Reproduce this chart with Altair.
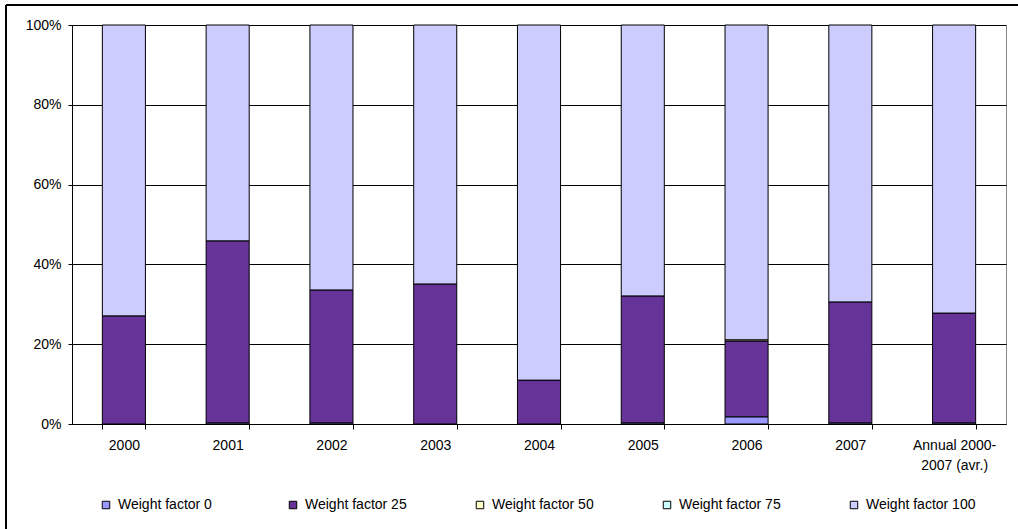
import altair as alt
import pandas as pd

# Categories (x axis) and series, bottom to top in each stack
periods = ["2000", "2001", "2002", "2003", "2004", "2005", "2006", "2007",
           "Annual 2000-|2007 (avr.)"]
series = ["Weight factor 0", "Weight factor 25", "Weight factor 50",
          "Weight factor 75", "Weight factor 100"]
colors = ["#9999FF", "#663399", "#FFFFCC", "#CCFFFF", "#CCCCFF"]

# Share of each weight factor per period (%)
wf0 = [0.0, 0.3, 0.3, 0.0, 0.0, 0.3, 1.8, 0.3, 0.3]
wf25 = [27.1, 45.6, 33.3, 35.1, 11.0, 31.8, 19.0, 30.3, 27.5]
wf50 = [0.0, 0.0, 0.0, 0.0, 0.0, 0.0, 0.3, 0.0, 0.0]
wf75 = [0.0, 0.0, 0.0, 0.0, 0.0, 0.0, 0.0, 0.0, 0.0]
wf100 = [72.9, 54.1, 66.4, 64.9, 89.0, 67.9, 78.9, 69.4, 72.2]

values = [wf0, wf25, wf50, wf75, wf100]
rows = []
for i, p in enumerate(periods):
    for j, s in enumerate(series):
        v = values[j][i]
        if v > 0:
            rows.append({"period": p, "series": s, "rank": j, "share": v})
df = pd.DataFrame(rows)

FONT = "Liberation Sans"
FSIZE = 14

bars = alt.Chart(df).mark_bar(stroke="black", strokeWidth=1).encode(
    x=alt.X(
        "period:N",
        sort=periods,
        scale=alt.Scale(paddingInner=0.585, paddingOuter=0.2925),
        axis=alt.Axis(
            title=None,
            labelAngle=0,
            labelExpr="split(datum.label, '|')",
            labelLineHeight=20,
            labelBaseline="top",
            tickBand="extent",
            tickSize=5,
            labelPadding=9,
            domainColor="black",
            tickColor="black",
        ),
    ),
    y=alt.Y(
        "share:Q",
        stack="normalize",
        scale=alt.Scale(domain=[0, 1], nice=False),
        axis=alt.Axis(
            title=None,
            format=".0%",
            values=[0, 0.2, 0.4, 0.6, 0.8, 1.0],
            grid=True,
            gridColor="black",
            gridWidth=1,
            tickSize=4,
            labelPadding=7,
            domainColor="black",
            tickColor="black",
        ),
    ),
    color=alt.Color(
        "series:N",
        scale=alt.Scale(domain=series, range=colors),
        legend=alt.Legend(
            title=None,
            orient="none",
            legendX=27,
            legendY=473,
            direction="horizontal",
            columns=5,
            gridAlign="all",
            columnPadding=58,
            symbolType="square",
            symbolSize=56,
            symbolStrokeColor="black",
            symbolStrokeWidth=1,
            labelFont=FONT,
            labelFontSize=FSIZE,
            labelColor="black",
            labelOffset=5,
        ),
    ),
    order=alt.Order("rank:Q", sort="ascending"),
)

# Outer frame around the whole figure
frame_src = pd.DataFrame({"k": [0]})
frame_left = alt.Chart(frame_src).mark_rule(color="black", strokeWidth=2).encode(
    x=alt.value(-66), y=alt.value(-20), y2=alt.value(530)
)
frame_top = alt.Chart(frame_src).mark_rule(color="black", strokeWidth=2).encode(
    x=alt.value(-66), x2=alt.value(970), y=alt.value(-20)
)

chart = alt.layer(bars, frame_left, frame_top).properties(
    width=934,
    height=399,
    padding={"left": 72, "top": 25, "right": 12, "bottom": 105},
    autosize=alt.AutoSizeParams(type="none"),
).configure_view(
    stroke="#888888", strokeWidth=1
).configure_axis(
    labelFont=FONT, labelFontSize=FSIZE, labelColor="black"
)

chart.save("out.html", embed_options={"renderer": "svg", "actions": False})
